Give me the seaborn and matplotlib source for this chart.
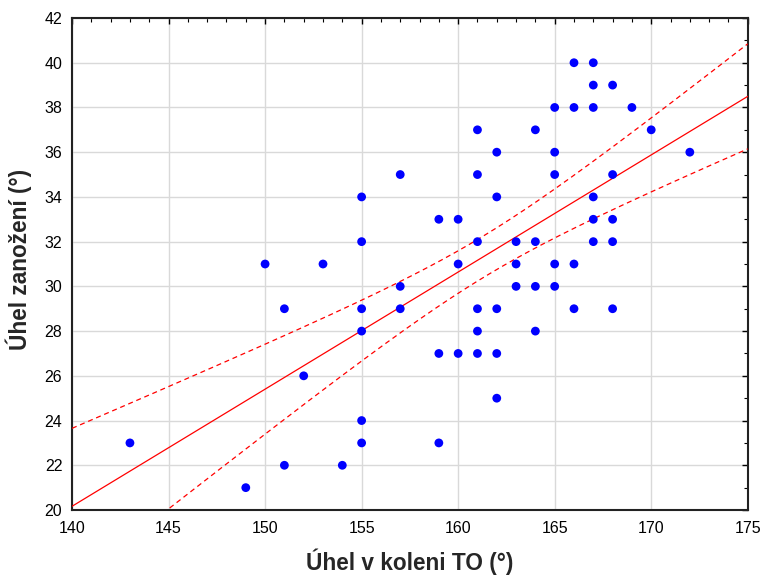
import matplotlib.pyplot as plt
import seaborn as sns
import numpy as np
import pandas as pd
from matplotlib.ticker import MultipleLocator

# Data
uhel_koleno = [143, 149, 150, 151, 151, 152, 153, 154,
               155, 155, 155, 155, 155, 155,
               157, 157, 157,
               159, 159, 159,
               160, 160, 160,
               161, 161, 161, 161, 161, 161,
               162, 162, 162, 162, 162,
               163, 163, 163,
               164, 164, 164, 164,
               165, 165, 165, 165, 165,
               166, 166, 166, 166,
               167, 167, 167, 167, 167, 167,
               168, 168, 168, 168, 168,
               169, 170, 172]
uhel_zanozeni = [23, 21, 31, 29, 22, 26, 31, 22,
                 34, 32, 29, 28, 24, 23,
                 35, 30, 29,
                 33, 27, 23,
                 33, 31, 27,
                 37, 35, 32, 29, 28, 27,
                 36, 34, 29, 27, 25,
                 32, 31, 30,
                 37, 32, 30, 28,
                 38, 36, 35, 31, 30,
                 40, 38, 31, 29,
                 40, 39, 38, 34, 33, 32,
                 39, 35, 33, 32, 29,
                 38, 37, 36]

df = pd.DataFrame({"x": uhel_koleno, "y": uhel_zanozeni})

sns.set_style("white")
plt.rcParams['font.family'] = ['Liberation Sans', 'DejaVu Sans']

fig = plt.figure(figsize=(7.63, 5.77), dpi=100)
ax = fig.add_axes([0.0944, 0.1161, 0.8856, 0.8527])

ax.set_xlim(140, 175)
ax.set_ylim(20, 42)

# linear fit + 95% confidence band of the mean
x = df["x"].to_numpy(float)
y = df["y"].to_numpy(float)
n = len(x)
b, a = np.polyfit(x, y, 1)
resid = y - (a + b * x)
s = np.sqrt(np.sum(resid ** 2) / (n - 2))
sxx = np.sum((x - x.mean()) ** 2)
t = 1.9990  # t(0.975, 62)
xs = np.linspace(140, 175, 200)
fit = a + b * xs
se = s * np.sqrt(1 / n + (xs - x.mean()) ** 2 / sxx)

ax.plot(xs, fit, color="red", lw=0.9, zorder=3)
ax.plot(xs, fit + t * se, color="red", lw=0.9, ls=(0, (4, 3)), zorder=3)
ax.plot(xs, fit - t * se, color="red", lw=0.9, ls=(0, (4, 3)), zorder=3)

sns.scatterplot(data=df, x="x", y="y", color="#0000ff", s=40,
                edgecolor="none", linewidth=0, ax=ax, zorder=4)

ax.xaxis.set_major_locator(MultipleLocator(5))
ax.xaxis.set_minor_locator(MultipleLocator(1))
ax.yaxis.set_major_locator(MultipleLocator(2))
ax.yaxis.set_minor_locator(MultipleLocator(1))
ax.grid(True, which="major", color="#d9d9d9", lw=1)
ax.set_axisbelow(True)
ax.tick_params(which="both", direction="in", top=True, right=True,
               labelsize=11.5, colors="black")
ax.tick_params(axis="x", which="major", pad=8)
ax.tick_params(axis="y", which="major", pad=7)
ax.tick_params(which="major", length=4, width=1)
ax.tick_params(which="minor", length=3, width=0.8)
for sp in ax.spines.values():
    sp.set_color("#222222")
    sp.set_linewidth(1.5)

ax.set_xlabel("Úhel v koleni TO (°)", fontsize=16.3, fontweight="bold")
ax.set_ylabel("Úhel zanožení (°)", fontsize=16.3, fontweight="bold")
ax.xaxis.set_label_coords(0.5, -0.079)
ax.yaxis.set_label_coords(-0.059, 0.51)

fig.savefig("out.png", dpi=100)
